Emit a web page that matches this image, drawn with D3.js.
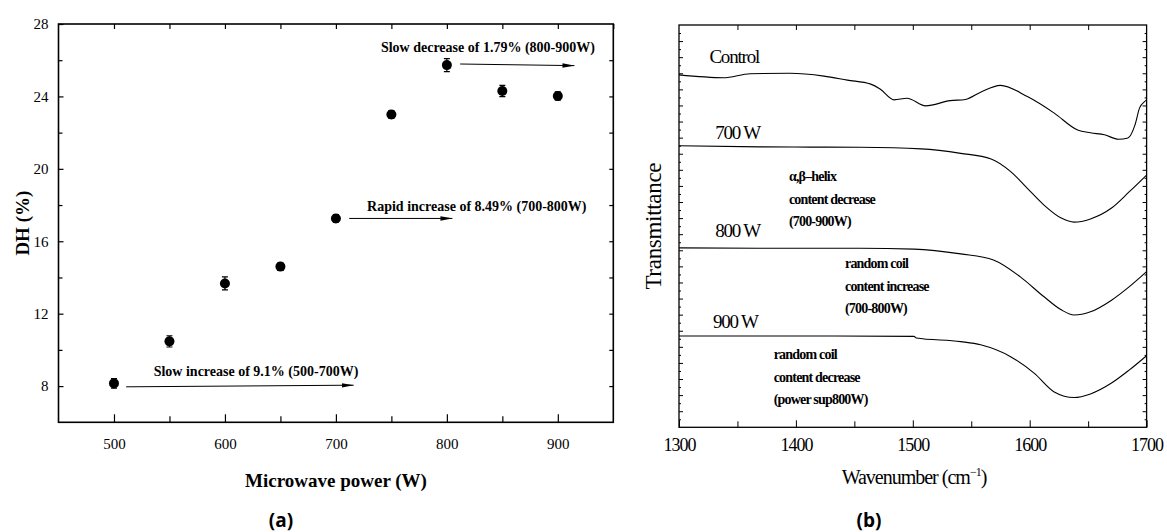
<!DOCTYPE html>
<html>
<head>
<meta charset="utf-8">
<script src="https://cdn.jsdelivr.net/npm/d3@7"></script>
<style>
  body { margin: 0; background: #fff; }
  svg { display: block; }
</style>
</head>
<body>
<svg width="1167" height="532"></svg>
<script>
// ---- data, panel (a) ----
const power = [500, 550, 600, 650, 700, 750, 800, 850, 900];
const dh = [8.15, 10.47, 13.67, 14.6, 17.26, 23.0, 25.73, 24.3, 24.02];
const dhErr = [0.15, 0.2, 0.25, 0.1, 0.1, 0.1, 0.25, 0.2, 0.12];
const powerTicks = [500, 600, 700, 800, 900];
const dhTicks = [8, 12, 16, 20, 24, 28];
const notes = [
  { text: "Slow increase of 9.1% (500-700W)", tx: 628, ty: 8.55, x0: 511, y0: 7.96, x1: 716, y1: 8.05 },
  { text: "Rapid increase of 8.49% (700-800W)", tx: 827, ty: 17.65, x0: 712, y0: 17.26, x1: 805, y1: 17.26 },
  { text: "Slow decrease of 1.79% (800-900W)", tx: 837, ty: 26.45, x0: 812, y0: 25.79, x1: 915, y1: 25.7 }
];

// ---- data, panel (b): FTIR traces (transmittance, arbitrary units) ----
const wnControl = [1300, 1338, 1361, 1395, 1424, 1444, 1464, 1472, 1484, 1495, 1511, 1532, 1545, 1558, 1575, 1598, 1621, 1641, 1652, 1664, 1676, 1684, 1690, 1694, 1698, 1700];
const tControl = [87.6, 86.9, 87.9, 88.0, 87.3, 86.3, 85.3, 84.1, 81.4, 81.8, 79.9, 81.2, 81.5, 83.3, 85.0, 82.2, 78.1, 73.9, 73.2, 72.7, 71.6, 71.9, 75.1, 79.4, 80.9, 81.4];
const wn700 = [1300, 1369, 1455, 1507, 1541, 1567, 1584, 1598, 1612, 1627, 1638, 1652, 1670, 1685, 1700];
const t700 = [70.0, 69.7, 69.6, 69.2, 68.1, 66.7, 63.5, 59.4, 55.3, 52.0, 51.0, 51.8, 54.5, 58.5, 62.7];
const wn800 = [1300, 1369, 1455, 1501, 1541, 1569, 1592, 1612, 1627, 1638, 1652, 1670, 1685, 1700];
const t800 = [44.6, 44.5, 44.5, 44.3, 43.1, 41.6, 37.4, 32.5, 29.2, 27.9, 28.7, 31.6, 34.9, 38.7];
const wn900 = [1300, 1398, 1501, 1503, 1541, 1558, 1584, 1604, 1621, 1638, 1652, 1670, 1685, 1700];
const t900 = [22.7, 22.7, 22.6, 22.2, 21.3, 20.5, 17.5, 13.4, 8.8, 7.4, 8.3, 11.0, 14.2, 17.8];
const traceNames = ["Control", "700 W", "800 W", "900 W"];
const wnTicks = [1300, 1400, 1500, 1600, 1700];
const labelPos = [[1326, 90.5], [1331, 71.7], [1331, 47.3], [1329, 24.6]];
const comments = [
  { lines: ["α,β–helix", "content decrease", "(700-900W)"], x: 1394, y: 61.1 },
  { lines: ["random coil", "content increase", "(700-800W)"], x: 1442, y: 39.5 },
  { lines: ["random coil", "content decrease", "(power sup800W)"], x: 1381, y: 16.9 }
];

const serif = "'Liberation Serif', 'Times New Roman', serif";
const svg = d3.select("svg");

svg.append("defs").append("marker")
  .attr("id", "arrow")
  .attr("viewBox", "0 0 12 6")
  .attr("refX", 12).attr("refY", 3)
  .attr("markerWidth", 12).attr("markerHeight", 6)
  .attr("markerUnits", "userSpaceOnUse")
  .attr("orient", "auto")
  .append("path").attr("d", "M0,0.8 L12,3 L0,5.2 Z").attr("fill", "#000");

// =============== panel (a) ===============
const aL = 58.5, aR = 613.3, aT = 24, aB = 422.3;
const x1 = d3.scaleLinear().domain([450, 950]).range([aL, aR]);
const y1 = d3.scaleLinear().domain([6, 28]).range([aB, aT]);
const gA = svg.append("g");

// ticks: bottom (inward), top, left, right
gA.append("g").attr("transform", `translate(0,${aB})`)
  .call(d3.axisBottom(x1).tickValues(powerTicks).tickSizeInner(-8).tickSizeOuter(0).tickPadding(16))
  .call(g => g.select(".domain").remove());
gA.append("g").attr("transform", `translate(0,${aB})`)
  .call(d3.axisBottom(x1).tickValues([550, 650, 750, 850]).tickSizeInner(-6).tickSizeOuter(0).tickFormat(""))
  .call(g => g.select(".domain").remove());
gA.append("g").attr("transform", `translate(0,${aT})`)
  .call(d3.axisTop(x1).tickValues(d3.range(500, 951, 50)).tickSizeInner(-5).tickSizeOuter(0).tickFormat(""))
  .call(g => g.select(".domain").remove());
gA.append("g").attr("transform", `translate(${aL},0)`)
  .call(d3.axisLeft(y1).tickValues(dhTicks).tickSizeInner(-5).tickSizeOuter(0).tickPadding(10))
  .call(g => g.select(".domain").remove());
gA.append("g").attr("transform", `translate(${aL},0)`)
  .call(d3.axisLeft(y1).tickValues([10, 14, 18, 22, 26]).tickSizeInner(-4).tickSizeOuter(0).tickFormat(""))
  .call(g => g.select(".domain").remove());
gA.append("g").attr("transform", `translate(${aR},0)`)
  .call(d3.axisRight(y1).tickValues(d3.range(8, 28, 2)).tickSizeInner(-4).tickSizeOuter(0).tickFormat(""))
  .call(g => g.select(".domain").remove());
gA.selectAll(".tick line").attr("stroke", "#000").attr("stroke-width", 1.2);
gA.selectAll(".tick text").attr("font-family", serif).attr("font-size", 15).attr("fill", "#000");

gA.append("rect")
  .attr("x", aL).attr("y", aT).attr("width", aR - aL).attr("height", aB - aT)
  .attr("fill", "none").attr("stroke", "#000").attr("stroke-width", 1.6);

// error bars + points
const pts = power.map((p, i) => ({ p, v: dh[i], e: dhErr[i] }));
gA.selectAll(".err").data(pts).enter().append("path")
  .attr("d", d => `M${x1(d.p) - 3},${y1(d.v + d.e) - 2}h6M${x1(d.p)},${y1(d.v + d.e) - 2}V${y1(d.v - d.e) + 2}M${x1(d.p) - 3},${y1(d.v - d.e) + 2}h6`)
  .attr("stroke", "#000").attr("stroke-width", 1.2).attr("fill", "none");
gA.selectAll(".pt").data(pts).enter().append("circle")
  .attr("cx", d => x1(d.p)).attr("cy", d => y1(d.v)).attr("r", 5)
  .attr("fill", "#000");

// annotations
gA.selectAll(".note").data(notes).enter().append("text")
  .attr("x", d => x1(d.tx)).attr("y", d => y1(d.ty))
  .attr("text-anchor", "middle")
  .attr("font-family", serif).attr("font-weight", "bold").attr("font-size", 14)
  .text(d => d.text);
gA.selectAll(".arr").data(notes).enter().append("line")
  .attr("x1", d => x1(d.x0)).attr("y1", d => y1(d.y0))
  .attr("x2", d => x1(d.x1)).attr("y2", d => y1(d.y1))
  .attr("stroke", "#000").attr("stroke-width", 1)
  .attr("marker-end", "url(#arrow)");

// axis titles
gA.append("text")
  .attr("transform", `translate(29,${(aT + aB) / 2}) rotate(-90)`)
  .attr("text-anchor", "middle")
  .attr("font-family", serif).attr("font-weight", "bold").attr("font-size", 19)
  .text("DH (%)");
gA.append("text")
  .attr("x", 336).attr("y", 487)
  .attr("text-anchor", "middle")
  .attr("font-family", serif).attr("font-weight", "bold").attr("font-size", 19)
  .text("Microwave power (W)");
gA.append("text")
  .attr("x", 281).attr("y", 527)
  .attr("text-anchor", "middle")
  .attr("font-family", "'Open Sans', sans-serif").attr("font-weight", "bold").attr("font-size", 19)
  .text("(a)");

// =============== panel (b) ===============
const bL = 679, bR = 1146.6, bT = 25, bB = 427.3;
const x2 = d3.scaleLinear().domain([1300, 1700]).range([bL, bR]);
const y2 = d3.scaleLinear().domain([0, 100]).range([bB, bT]);
const gB = svg.append("g");

gB.append("g").attr("transform", `translate(0,${bB})`)
  .call(d3.axisBottom(x2).tickValues(wnTicks).tickSizeInner(-7).tickSizeOuter(0).tickPadding(11).tickFormat(d3.format("d")))
  .call(g => g.select(".domain").remove());
gB.append("g").attr("transform", `translate(0,${bB})`)
  .call(d3.axisBottom(x2).tickValues([1350, 1450, 1550, 1650]).tickSizeInner(-6).tickSizeOuter(0).tickFormat(""))
  .call(g => g.select(".domain").remove());
gB.append("g").attr("transform", `translate(0,${bT})`)
  .call(d3.axisTop(x2).tickValues(d3.range(1350, 1700, 50)).tickSizeInner(-5).tickSizeOuter(0).tickFormat(""))
  .call(g => g.select(".domain").remove());
gB.append("g").attr("transform", `translate(${bL},0)`)
  .call(d3.axisLeft(y2).tickValues(d3.range(4, 100, 4)).tickSizeInner(-4).tickSizeOuter(0).tickFormat(""))
  .call(g => g.select(".domain").remove());
gB.append("g").attr("transform", `translate(${bL},0)`)
  .call(d3.axisLeft(y2).tickValues(d3.range(2, 100, 4)).tickSizeInner(-2).tickSizeOuter(0).tickFormat(""))
  .call(g => g.select(".domain").remove());
gB.append("g").attr("transform", `translate(${bR},0)`)
  .call(d3.axisRight(y2).tickValues(d3.range(4, 100, 4)).tickSizeInner(-4).tickSizeOuter(0).tickFormat(""))
  .call(g => g.select(".domain").remove());
gB.append("g").attr("transform", `translate(${bR},0)`)
  .call(d3.axisRight(y2).tickValues(d3.range(2, 100, 4)).tickSizeInner(-2).tickSizeOuter(0).tickFormat(""))
  .call(g => g.select(".domain").remove());
gB.selectAll(".tick line").attr("stroke", "#000").attr("stroke-width", 1);
gB.selectAll(".tick text").attr("font-family", serif).attr("font-size", 18).attr("letter-spacing", -1).attr("fill", "#000");

gB.append("rect")
  .attr("x", bL).attr("y", bT).attr("width", bR - bL).attr("height", bB - bT)
  .attr("fill", "none").attr("stroke", "#000").attr("stroke-width", 1.3);

const traces = [
  wnControl.map((w, i) => [w, tControl[i]]),
  wn700.map((w, i) => [w, t700[i]]),
  wn800.map((w, i) => [w, t800[i]]),
  wn900.map((w, i) => [w, t900[i]])
];
const line = d3.line().x(d => x2(d[0])).y(d => y2(d[1])).curve(d3.curveMonotoneX);
gB.selectAll(".trace").data(traces).enter().append("path")
  .attr("d", line)
  .attr("fill", "none").attr("stroke", "#000").attr("stroke-width", 1.1);

gB.selectAll(".tname").data(traceNames).enter().append("text")
  .attr("x", (d, i) => x2(labelPos[i][0])).attr("y", (d, i) => y2(labelPos[i][1]))
  .attr("font-family", serif).attr("font-size", 19).attr("letter-spacing", -1.2)
  .text(d => d);

const cm = gB.selectAll(".cm").data(comments).enter().append("text")
  .attr("font-family", serif).attr("font-weight", "bold").attr("font-size", 14).attr("letter-spacing", -0.8);
cm.selectAll("tspan").data(d => d.lines.map((l, k) => ({ l, k, x: d.x, y: d.y }))).enter().append("tspan")
  .attr("x", d => x2(d.x)).attr("y", d => y2(d.y) + d.k * 22.5)
  .text(d => d.l);

gB.append("text")
  .attr("transform", `translate(661,${(bT + bB) / 2}) rotate(-90)`)
  .attr("text-anchor", "middle")
  .attr("font-family", serif).attr("font-size", 23).attr("letter-spacing", -0.3)
  .text("Transmittance");
const xt = gB.append("text")
  .attr("x", 914).attr("y", 484)
  .attr("text-anchor", "middle")
  .attr("font-family", serif).attr("font-size", 20).attr("letter-spacing", -1);
xt.append("tspan").text("Wavenumber (cm");
xt.append("tspan").attr("dy", -8).attr("font-size", 12).text("−1");
xt.append("tspan").attr("dy", 8).text(")");
gB.append("text")
  .attr("x", 869).attr("y", 527)
  .attr("text-anchor", "middle")
  .attr("font-family", "'Open Sans', sans-serif").attr("font-weight", "bold").attr("font-size", 19)
  .text("(b)");
</script>
</body>
</html>
